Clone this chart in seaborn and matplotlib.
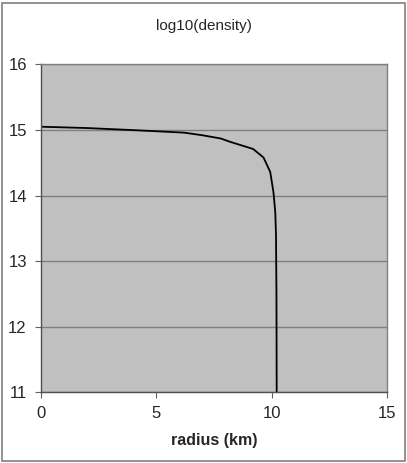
import seaborn as sns
import pandas as pd
import matplotlib.pyplot as plt
from matplotlib.patches import Rectangle

# radius (km) and log10 of density
radius = [0, 2.0, 3.9, 6.2, 7.0, 7.8, 8.2, 9.2, 9.65, 9.94, 10.08, 10.16, 10.19, 10.21, 10.22]
log_density = [15.05, 15.03, 15.0, 14.96, 14.92, 14.87, 14.82, 14.71, 14.58, 14.36, 14.05, 13.74, 13.40, 12.5, 11.0]
x_ticks = [0, 5, 10, 15]
y_ticks = [11, 12, 13, 14, 15, 16]

data = pd.DataFrame({"radius": radius, "logrho": log_density})

sns.set_style("white")
plt.rcParams['font.family'] = ['Liberation Sans', 'DejaVu Sans']

fig = plt.figure(figsize=(4.07, 4.63), dpi=100)
ax = fig.add_axes([0.1, 0.1533, 0.851, 0.7074])

# Excel-like gray plot area
ax.set_facecolor("#c0c0c0")
sns.lineplot(x="radius", y="logrho", data=data, ax=ax, sort=False,
             estimator=None, color="black", linewidth=1.3)

ax.set_xlim(0, 15)
ax.set_ylim(11, 16)
ax.set_xticks(x_ticks)
ax.set_yticks(y_ticks)
ax.yaxis.grid(True, color="#808080", linewidth=1)
ax.set_axisbelow(True)
ax.tick_params(axis="both", direction="out", length=4, width=0.8,
               color="#606060", labelsize=12, pad=6, left=True, bottom=True)
for s in ax.spines.values():
    s.set_color("#808080")
    s.set_linewidth(1)
ax.spines["left"].set_color("#505050")
ax.spines["bottom"].set_color("#505050")

ax.set_xlabel("radius (km)", fontsize=11.5, fontweight="bold", labelpad=9)
ax.set_ylabel("")
fig.text(0.5, 0.944, "log10(density)", ha="center", va="center", fontsize=11)

# outer chart border
fig.patches.append(Rectangle((0.004, 0.004), 0.99, 0.99, transform=fig.transFigure,
                             fill=False, edgecolor="#808080", linewidth=1.2))

fig.savefig("out.png", dpi=100)
